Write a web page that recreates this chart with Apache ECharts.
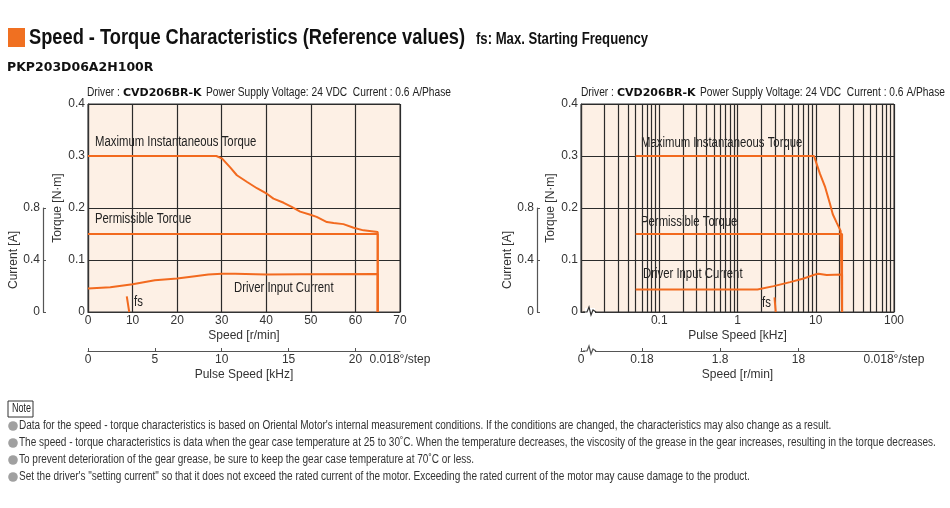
<!DOCTYPE html>
<html lang="en">
<head>
<meta charset="utf-8">
<title>Speed - Torque Characteristics</title>
<script src="https://cdn.jsdelivr.net/npm/echarts@6/dist/echarts.min.js"></script>
<style>
    html, body { margin: 0; padding: 0; background: #fff; }
    #main { width: 950px; height: 508px; }
</style>
</head>
<body>
<div id="main"></div>
<script type="text/javascript">
    // ---- left chart: speed [r/min] ----
    var lMaxSpeed   = [0, 28.8, 30.1, 31.9, 33.4, 35.7, 37.9, 40.2, 41.6, 43.9, 45.7, 47.6, 49.9, 51.3, 53.6, 55.1, 57.3, 59.6, 61.8, 65, 65];
    var lMaxTorque  = [0.30, 0.30, 0.295, 0.278, 0.263, 0.250, 0.238, 0.227, 0.218, 0.210, 0.202, 0.193, 0.187, 0.183, 0.173, 0.171, 0.169, 0.162, 0.157, 0.154, 0];
    var lPermSpeed  = [0, 65, 65];
    var lPermTorque = [0.15, 0.15, 0];
    var lCurSpeed   = [0, 5, 10, 15, 20, 24, 27, 30, 33, 40, 48, 65, 65];
    var lCurrent    = [0.18, 0.19, 0.213, 0.244, 0.257, 0.275, 0.288, 0.295, 0.295, 0.288, 0.29, 0.293, 0];
    var lFsSpeed    = [8.7, 9.25];
    var lFsTorque   = [0.03, 0];

    // ---- right chart: pulse speed [kHz], log scale ----
    var rMaxKhz     = [0.05, 9.5, 11.3, 13.2, 15.2, 16.5, 18.5, 20.8, 21.7, 21.7];
    var rMaxTorque  = [0.30, 0.30, 0.266, 0.240, 0.208, 0.188, 0.172, 0.156, 0.154, 0];
    var rPermKhz    = [0.05, 21.7, 21.7];
    var rPermTorque = [0.15, 0.15, 0];
    var rCurKhz     = [0.05, 1.8, 2.9, 4.7, 7.0, 9.3, 10.8, 13.8, 21.7, 21.7];
    var rCurrent    = [0.173, 0.173, 0.199, 0.23, 0.258, 0.284, 0.294, 0.284, 0.289, 0];
    var rFsKhz      = [2.97, 3.08];
    var rFsTorque   = [0.028, 0];

    // tick labels
    var pulseTicks = [0, 5, 10, 15, 20];
    var khzLabels = [0.1, 1, 10, 100];
    var rpmLabels = [0.18, 1.8, 18];
    var stepLabel = '0.018°/step';

    var notes = [
        'Data for the speed - torque characteristics is based on Oriental Motor\'s internal measurement conditions. If the conditions are changed, the characteristics may also change as a result.',
        'The speed - torque characteristics is data when the gear case temperature at 25 to 30˚C. When the temperature decreases, the viscosity of the grease in the gear increases, resulting in the torque decreases.',
        'To prevent deterioration of the gear grease, be sure to keep the gear case temperature at 70˚C or less.',
        'Set the driver\'s "setting current" so that it does not exceed the rated current of the motor. Exceeding the rated current of the motor may cause damage to the product.'
    ];

    var SANS = "'Liberation Sans', Arial, sans-serif";
    var WIDE = "'DejaVu Sans', sans-serif";
    var ORANGE = '#f26a1f';
    var DARK = '#333';
    var BG = '#fdf0e5';
    var NARROWX = 0.82;   // squeeze Liberation Sans to look like a narrow face

    function pairs(xs, ys, fx) {
        return xs.map(function (x, i) { return [fx ? fx(x) : x, ys[i]]; });
    }
    var lg = Math.log10;

    // log grid lines 0.01 .. 100 kHz
    var logGrid = [];
    for (var e = -2; e < 2; e++) {
        for (var k = 1; k < 10; k++) logGrid.push(lg(k) + e);
    }
    logGrid.push(2);

    var rpmMin = lg(0.03), rpmMax = lg(300);   // 0.01..100 kHz at 0.018°/step
    var pulseMax = 70 / 3;

    function lineSeries(data, xi, yi) {
        return {
            type: 'line', data: data, xAxisIndex: xi, yAxisIndex: yi,
            symbol: 'none', animation: false, silent: true,
            lineStyle: { color: ORANGE, width: 2 }
        };
    }

    // narrow-looking text element
    function txt(x, y, text, font, sx, extra) {
        var st = { text: text, font: font, fill: '#222', verticalAlign: 'middle' };
        if (extra) Object.assign(st, extra);
        return { type: 'text', x: x, y: y, scaleX: sx, style: st };
    }

    var axisLab = { color: DARK, fontSize: 12, fontFamily: SANS };
    var nameSt = { color: DARK, fontSize: 12, fontFamily: SANS };
    var gridLine = { show: true, lineStyle: { color: '#2b2b2b', width: 1.2 } };
    var axLine = { show: true, onZero: false, lineStyle: { color: DARK, width: 1.2 } };
    var subLine = { show: true, onZero: false, lineStyle: { color: '#555', width: 1.2 } };

    function torqueAxis(gi) {
        return {
            type: 'value', gridIndex: gi, min: 0, max: 0.4, interval: 0.1,
            axisLine: axLine, axisTick: { show: false }, splitLine: gridLine,
            axisLabel: Object.assign({ margin: 3 }, axisLab),
            name: 'Torque [N·m]', nameLocation: 'middle', nameGap: 24, nameTextStyle: nameSt
        };
    }
    function currentAxis(gi) {
        return {
            type: 'value', gridIndex: gi, min: 0, max: 0.8, interval: 0.4,
            axisLine: subLine,
            axisTick: { show: true, inside: true, length: 3, lineStyle: { color: '#555' } },
            splitLine: { show: false },
            axisLabel: Object.assign({ margin: 3 }, axisLab),
            name: 'Current [A]', nameLocation: 'middle', nameGap: 22, nameTextStyle: nameSt
        };
    }

    var myChart = echarts.init(document.getElementById('main'));

    var graphics = [
        { type: 'rect', shape: { x: 8, y: 28, width: 17, height: 19 }, style: { fill: '#f07021' } },
        txt(29, 38, 'Speed - Torque Characteristics (Reference values)', 'bold 22px ' + SANS, 0.83, { fill: '#111' }),
        txt(476, 40, 'fs: Max. Starting Frequency', 'bold 16px ' + SANS, NARROWX, { fill: '#111' }),
        txt(7, 68, 'PKP203D06A2H100R', 'bold 12.5px ' + WIDE, 1, { fill: '#111' }),

        // plot annotations
        txt(95, 142, 'Maximum Instantaneous Torque', '14px ' + SANS, 0.81),
        txt(95, 219, 'Permissible Torque', '14px ' + SANS, 0.81),
        txt(234, 288, 'Driver Input Current', '14px ' + SANS, 0.81),
        txt(134, 302, 'fs', '14px ' + SANS, 0.81),
        txt(641, 143, 'Maximum Instantaneous Torque', '14px ' + SANS, 0.81),
        txt(641, 222, 'Permissible Torque', '14px ' + SANS, 0.81),
        txt(643, 274, 'Driver Input Current', '14px ' + SANS, 0.81),
        txt(762, 303, 'fs', '14px ' + SANS, 0.81),

        // axis breaks on the log chart
        { type: 'rect', shape: { x: 585, y: 308, width: 10, height: 8 }, style: { fill: '#fff' }, z: 50 },
        { type: 'polyline', shape: { points: [[583, 312], [587, 312], [589, 307], [591, 315], [593, 310], [596, 312]] }, style: { stroke: DARK, lineWidth: 1.2, fill: null }, z: 51 },
        { type: 'rect', shape: { x: 585, y: 347, width: 10, height: 8 }, style: { fill: '#fff' }, z: 50 },
        { type: 'polyline', shape: { points: [[583, 351], [587, 351], [589, 346], [591, 354], [593, 349], [596, 351]] }, style: { stroke: '#555', lineWidth: 1.2, fill: null }, z: 51 },

        // note box
        { type: 'rect', shape: { x: 8, y: 401, width: 25, height: 16 }, style: { fill: '#fff', stroke: DARK, lineWidth: 1 } },
        txt(12, 409, 'Note', '12px ' + SANS, 0.75)
    ];

    // driver headers above each chart
    [0, 494].forEach(function (dx) {
        graphics.push(txt(87 + dx, 93, 'Driver :', '12px ' + SANS, 0.85));
        graphics.push(txt(123 + dx, 93, 'CVD206BR-K', 'bold 11px ' + WIDE, 1, { fill: '#111' }));
        graphics.push(txt(206 + dx, 93, 'Power Supply Voltage: 24 VDC  Current : 0.6 A/Phase', '12px ' + SANS, 0.85));
    });

    var noteY = [426, 443, 460, 477];
    notes.forEach(function (t, i) {
        graphics.push({ type: 'circle', shape: { cx: 13, cy: noteY[i], r: 4.8 }, style: { fill: '#a0a0a0' } });
        graphics.push(txt(19, noteY[i], t, '12px ' + SANS, 0.835, { fill: '#333' }));
    });

    option = {
        animation: false,
        backgroundColor: '#fff',
        grid: [
            { left: 88, top: 104, width: 312, height: 208, show: true, backgroundColor: BG, borderColor: DARK, borderWidth: 1 },
            { left: 581, top: 104, width: 313, height: 208, show: true, backgroundColor: BG, borderColor: DARK, borderWidth: 1 },
            { left: 43, top: 208, width: 1, height: 104 },
            { left: 537, top: 208, width: 1, height: 104 }
        ],
        xAxis: [
            // 0: left speed
            {
                type: 'value', gridIndex: 0, min: 0, max: 70, interval: 10,
                axisLine: axLine, axisTick: { show: false }, splitLine: gridLine,
                axisLabel: Object.assign({ margin: 3 }, axisLab),
                name: 'Speed [r/min]', nameLocation: 'middle', nameGap: 18, nameTextStyle: nameSt
            },
            // 1: left pulse speed
            {
                type: 'value', gridIndex: 0, position: 'bottom', offset: 39, min: 0, max: pulseMax,
                axisLine: subLine,
                axisTick: { show: true, inside: true, length: 3, customValues: pulseTicks, lineStyle: { color: '#555' } },
                splitLine: { show: false },
                axisLabel: Object.assign({
                    margin: 3, customValues: pulseTicks.concat([pulseMax]),
                    formatter: function (v) { return v > 21 ? stepLabel : String(v); }
                }, axisLab),
                name: 'Pulse Speed [kHz]', nameLocation: 'middle', nameGap: 18, nameTextStyle: nameSt
            },
            // 2: right pulse speed (log10 kHz)
            {
                type: 'value', gridIndex: 1, min: -2, max: 2,
                axisLine: axLine,
                axisTick: { show: false, customValues: logGrid },
                splitLine: gridLine,
                axisLabel: Object.assign({
                    margin: 3, customValues: khzLabels.map(lg),
                    formatter: function (v) {
                        var best = khzLabels[0];
                        khzLabels.forEach(function (l) { if (Math.abs(lg(l) - v) < Math.abs(lg(best) - v)) best = l; });
                        return String(best);
                    }
                }, axisLab),
                name: 'Pulse Speed [kHz]', nameLocation: 'middle', nameGap: 18, nameTextStyle: nameSt
            },
            // 3: right speed (log10 r/min)
            {
                type: 'value', gridIndex: 1, position: 'bottom', offset: 39, min: rpmMin, max: rpmMax,
                axisLine: subLine,
                axisTick: { show: true, inside: true, length: 3, customValues: [rpmMin].concat(rpmLabels.map(lg)), lineStyle: { color: '#555' } },
                splitLine: { show: false },
                axisLabel: Object.assign({
                    margin: 3, customValues: [rpmMin].concat(rpmLabels.map(lg), [rpmMax]),
                    formatter: function (v) {
                        if (v < -1.3) return '0';
                        if (v > 2) return stepLabel;
                        var best = rpmLabels[0];
                        rpmLabels.forEach(function (l) { if (Math.abs(lg(l) - v) < Math.abs(lg(best) - v)) best = l; });
                        return String(best);
                    }
                }, axisLab),
                name: 'Speed [r/min]', nameLocation: 'middle', nameGap: 18, nameTextStyle: nameSt
            },
            { type: 'value', gridIndex: 2, show: false },
            { type: 'value', gridIndex: 3, show: false }
        ],
        yAxis: [
            torqueAxis(0),
            { type: 'value', gridIndex: 0, min: 0, max: 1.6, show: false, splitLine: { show: false } },
            torqueAxis(1),
            { type: 'value', gridIndex: 1, min: 0, max: 1.6, show: false, splitLine: { show: false } },
            currentAxis(2),
            currentAxis(3)
        ],
        series: [
            lineSeries(pairs(lMaxSpeed, lMaxTorque), 0, 0),
            lineSeries(pairs(lPermSpeed, lPermTorque), 0, 0),
            lineSeries(pairs(lCurSpeed, lCurrent), 0, 1),
            lineSeries(pairs(lFsSpeed, lFsTorque), 0, 0),
            lineSeries(pairs(rMaxKhz, rMaxTorque, lg), 2, 2),
            lineSeries(pairs(rPermKhz, rPermTorque, lg), 2, 2),
            lineSeries(pairs(rCurKhz, rCurrent, lg), 2, 3),
            lineSeries(pairs(rFsKhz, rFsTorque, lg), 2, 2)
        ],
        graphic: graphics
    };
    myChart.setOption(option);
</script>
</body>
</html>
